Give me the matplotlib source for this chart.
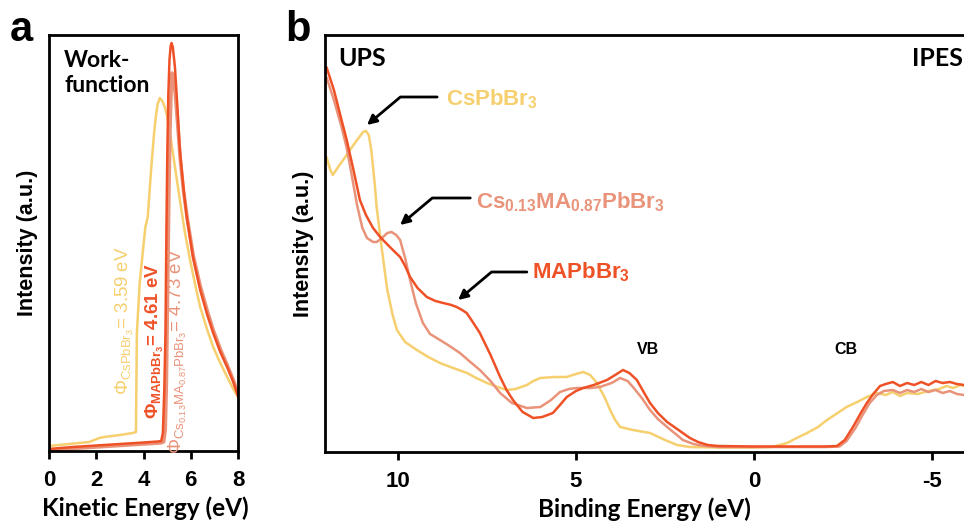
import numpy as np
import matplotlib
matplotlib.use("Agg")
import matplotlib.pyplot as plt
from matplotlib.font_manager import FontProperties

plt.rcParams['font.family'] = ['Liberation Sans', 'DejaVu Sans']
plt.rcParams['mathtext.fontset'] = 'custom'
plt.rcParams['mathtext.rm'] = 'Liberation Sans'
plt.rcParams['mathtext.it'] = 'Liberation Sans'
plt.rcParams['mathtext.bf'] = 'Liberation Sans:bold'

YEL = '#F6CF6E'
RED = '#EF5127'
SAL = '#E9937A'

# ---- panel a: secondary electron cutoff (kinetic energy, eV) ----
ke_cs = [0, 0.85, 1.7, 2.13, 2.34, 3.0, 3.55, 3.68, 3.72, 3.84, 4.0, 4.08, 4.18, 4.33, 4.45, 4.52,
         4.6, 4.69, 4.8, 4.9, 5.0, 5.12, 5.3, 5.54, 5.75, 5.97, 6.2, 6.4, 6.7, 6.95, 7.25, 7.54, 7.8, 8.0]
int_cs = [5, 7, 9, 13, 14, 16, 18, 19, 118, 168, 206, 224, 234, 284, 318, 334,
          347, 353, 350, 344, 335, 318, 289, 251, 219, 191, 165, 144, 121, 104, 88, 74, 62, 54]

ke_ma = [0, 1, 2, 3, 4, 4.6, 4.75, 4.82, 4.88, 4.93, 4.97, 5.01, 5.05, 5.1, 5.15, 5.19, 5.24, 5.33,
         5.43, 5.54, 5.7, 5.83, 6.1, 6.4, 6.7, 6.95, 7.25, 7.54, 7.8, 8.0]
int_ma = [2, 4, 5.5, 7, 8.5, 9.5, 10, 18, 61, 118, 221, 301, 356, 391, 405, 408, 404, 384,
          346, 301, 261, 234, 193, 161, 136, 118, 99, 84, 69, 55]

ke_mix = [0, 1, 2, 3, 4, 4.7, 4.85, 4.92, 4.97, 5.02, 5.07, 5.12, 5.17, 5.21, 5.26, 5.35, 5.45,
          5.56, 5.7, 5.85, 6.1, 6.4, 6.7, 6.95, 7.25, 7.54, 7.8, 8.0]
int_mix = [1, 2.5, 4, 5.5, 7, 8, 9, 21, 71, 161, 251, 321, 363, 378, 375, 356, 326,
           291, 259, 233, 196, 165, 140, 121, 102, 86, 71, 57]

# ---- panel b: UPS / IPES (binding energy, eV) ----
be_cs = [12.0, 11.9, 11.83, 11.7, 11.5, 11.35, 11.15, 10.98, 10.9, 10.82, 10.75, 10.65, 10.6, 10.45,
         10.3, 10.15, 10.03, 9.8, 9.47, 9.15, 8.82, 8.45, 8.06, 7.8, 7.5, 7.2, 6.94, 6.7, 6.38, 6.2,
         6.0, 5.6, 5.26, 5.0, 4.8, 4.6, 4.41, 4.2, 4.04, 3.9, 3.76, 3.4, 2.92, 2.5, 2.16, 1.8, 1.0,
         0, -0.5, -0.93, -1.2, -1.49, -1.8, -2.05, -2.35, -2.6, -2.9, -3.17, -3.45, -3.7, -3.9,
         -4.1, -4.3, -4.6, -4.9, -5.2, -5.4, -5.6, -5.8, -6.0, -6.4]
ups_cs = [294, 282, 277, 284, 294, 302, 312, 320, 321, 317, 302, 267, 245, 202,
          162, 137, 122, 110, 102, 95, 89, 84, 79, 74, 69, 65, 62, 63, 67, 71,
          74, 75, 75, 78, 80, 77, 69, 55, 42, 32, 25, 22, 19, 12, 7, 5, 4.5,
          4.5, 5, 9, 14, 19, 25, 32, 39, 45, 50, 55, 59, 57, 60,
          56, 59, 58, 61, 63, 66, 64, 67, 65, 64]

be_ma = [12.0, 11.8, 11.6, 11.44, 11.25, 11.07, 10.9, 10.7, 10.5, 10.2, 9.94, 9.8, 9.66, 9.45, 9.19,
         8.95, 8.73, 8.5, 8.35, 8.2, 8.07, 7.9, 7.7, 7.4, 7.13, 6.95, 6.77, 6.5, 6.2, 5.95, 5.65,
         5.45, 5.26, 5.0, 4.8, 4.5, 4.13, 3.9, 3.68, 3.5, 3.29, 3.1, 2.92, 2.7, 2.44, 2.2, 2.0,
         1.8, 1.57, 1.3, 1.0, 0, -1.0, -2.0, -2.33, -2.55, -2.78, -3.0, -3.17, -3.35, -3.54,
         -3.7, -3.9, -4.1, -4.3, -4.5, -4.7, -4.9, -5.1, -5.3, -5.5, -5.7, -5.9, -6.1, -6.4]
ups_ma = [384, 362, 334, 312, 282, 252, 237, 224, 215, 204, 195, 186, 175, 164, 155,
          151, 149, 147, 145, 142, 139, 130, 119, 97, 75, 62, 52, 40, 34, 35, 39,
          47, 55, 61, 64, 67, 72, 77, 82, 79, 72, 60, 49, 39, 30, 24, 19,
          14, 10, 7, 6, 5.5, 5.5, 5.5, 6, 12, 25, 39, 49, 58, 66,
          68, 70, 66, 69, 67, 70, 67, 71, 69, 70, 68, 67, 68, 66]

be_mix = [12.0, 11.8, 11.6, 11.44, 11.3, 11.15, 11.0, 10.87, 10.7, 10.6, 10.45, 10.3, 10.18, 10.05,
          9.94, 9.8, 9.66, 9.5, 9.3, 9.1, 8.82, 8.55, 8.26, 8.0, 7.7, 7.4, 7.13, 6.8, 6.38, 6.0,
          5.7, 5.45, 5.2, 4.98, 4.6, 4.33, 4.0, 3.76, 3.55, 3.4, 3.15, 2.92, 2.7, 2.44, 2.2, 2.0,
          1.7, 1.4, 1.0, 0, -2.0, -2.4, -2.6, -2.85, -3.05, -3.25, -3.45, -3.65, -3.9, -4.1,
          -4.3, -4.5, -4.7, -4.9, -5.1, -5.3, -5.5, -5.7, -5.9, -6.1, -6.4]
ups_mix = [374, 352, 327, 304, 277, 247, 224, 214, 210, 210, 214, 219, 220, 217,
           212, 194, 172, 149, 129, 118, 112, 106, 99, 91, 82, 71, 59, 49, 44, 45,
           52, 60, 63, 64, 64, 65, 69, 74, 71, 65, 54, 42, 33, 25, 18, 12,
           8, 6, 5, 5, 5, 5.5, 11, 24, 37, 49, 57, 61, 62, 59,
           62, 60, 63, 60, 62, 59, 61, 58, 57, 56, 55]

W, H = 964, 523
fig = plt.figure(figsize=(W / 100, H / 100), dpi=100)

def px_axes(x0, y0, x1, y1):
    return fig.add_axes([x0 / W, 1 - y1 / H, (x1 - x0) / W, (y1 - y0) / H])

tick_font = FontProperties(family='Liberation Sans', weight='bold', size=16)
lab_font = dict(family=['Lato', 'DejaVu Sans'], weight='bold', size=17.5)
ylab_font = dict(family='Liberation Sans', weight='bold', size=15.5)

# panel a
ax1 = px_axes(49, 35, 238, 451)
ax1.plot(ke_cs, int_cs, color=YEL, lw=1.8)
ax1.plot(ke_mix, int_mix, color=SAL, lw=2.6)
ax1.plot(ke_ma, int_ma, color=RED, lw=1.8)
ax1.set_xlim(0, 8)
ax1.set_ylim(0, 416)
ax1.set_xticks([0, 2, 4, 6, 8])
ax1.set_yticks([])
ax1.set_xlabel('Kinetic Energy (eV)', **lab_font, va='top')
ax1.xaxis.set_label_coords((145 - 49) / (238 - 49), (451 - 496) / 416)
ax1.set_ylabel('Intensity (a.u.)', **ylab_font, labelpad=8)
ax1.text(0.64, 378, 'Work-\nfunction', ha='left', va='center', family=['Lato', 'DejaVu Sans'],
         weight='bold', size=16.5, linespacing=1.2)
ax1.text(3.23, 130, r'$\Phi_{\mathrm{CsPbBr_3}}$= 3.59 eV', color=YEL, rotation=90,
         ha='center', va='center', size=13.5)
ax1.text(4.47, 110, r'$\mathbf{\Phi_{MAPbBr_3}}$= 4.61 eV', color=RED, rotation=90,
         ha='center', va='center', size=13.5, weight='bold')
ax1.text(5.45, 100, r'$\Phi_{\mathrm{Cs_{0.13}MA_{0.87}PbBr_3}}$= 4.73 eV', color=SAL, rotation=90,
         ha='center', va='center', size=13.5)

# panel b
ax2 = px_axes(325, 35, 980, 452)
ax2.plot(be_cs, ups_cs, color=YEL, lw=1.8)
ax2.plot(be_mix, ups_mix, color=SAL, lw=1.8)
ax2.plot(be_ma, ups_ma, color=RED, lw=1.8)
ax2.set_xlim(12.05, (754 - 980) / 35.6)
ax2.set_ylim(0, 417)
ax2.set_xticks([10, 5, 0, -5])
ax2.set_xticklabels(['10', '5', '0', '-5'])
ax2.set_yticks([])
ax2.set_xlabel('Binding Energy (eV)', **lab_font, va='top')
ax2.xaxis.set_label_coords((644 - 325) / (980 - 325), (452 - 497) / 417)
ax2.set_ylabel('Intensity (a.u.)', **ylab_font, labelpad=8)
ax2.text(11.67, 394, 'UPS', ha='left', va='center', family=['Lato', 'DejaVu Sans'], weight='bold', size=18)
ax2.text((754 - 963) / 35.6, 394, 'IPES', ha='right', va='center', family=['Lato', 'DejaVu Sans'],
         weight='bold', size=18)
ax2.text(2.98, 102, 'VB', ha='center', va='center', weight='bold', size=11.5)
ax2.text(-2.58, 102, 'CB', ha='center', va='center', weight='bold', size=11.5)

arrows = [
    ('CsPbBr$_\\mathbf{3}$', YEL, (10.87, 327), (8.9, 355), (8.64, 353)),
    ('Cs$_\\mathbf{0.13}$MA$_\\mathbf{0.87}$PbBr$_\\mathbf{3}$', SAL, (9.94, 227), (7.97, 254), (7.8, 250)),
    ('MAPbBr$_\\mathbf{3}$', RED, (8.31, 152), (6.38, 180), (6.24, 180)),
]
for label, col, tip, start, tpos in arrows:
    ax2.annotate('', xy=tip, xytext=start,
                 arrowprops=dict(arrowstyle='-|>', color='black', lw=2, mutation_scale=14,
                                 shrinkA=0, shrinkB=0,
                                 connectionstyle='angle,angleA=0,angleB=40,rad=0'))
    ax2.text(tpos[0], tpos[1], label, color=col, ha='left', va='center', weight='bold', size=16)

for ax in (ax1, ax2):
    for s in ax.spines.values():
        s.set_linewidth(2)
    ax.tick_params(axis='x', direction='out', length=6, width=2, pad=8)
    for t in ax.get_xticklabels():
        t.set_fontproperties(tick_font)

fig.text(10 / W, 1 - 30 / H, 'a', weight='bold', size=30, ha='left', va='center')
fig.text(285 / W, 1 - 30 / H, 'b', weight='bold', size=30, ha='left', va='center')

fig.savefig('out.png', dpi=100)
